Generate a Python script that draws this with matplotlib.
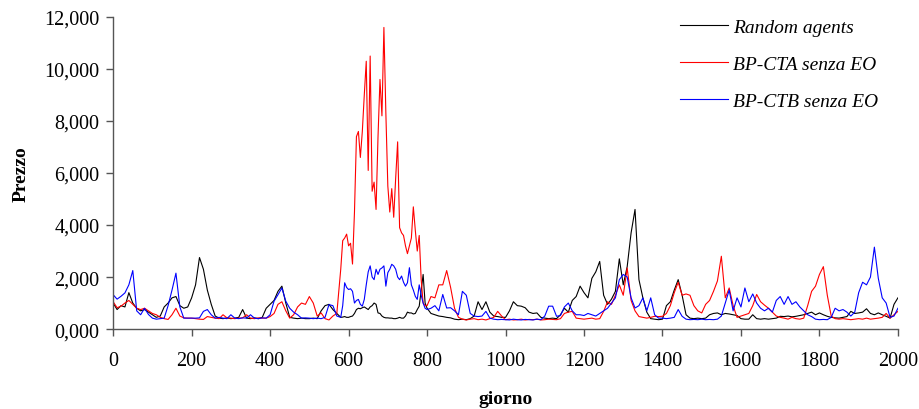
import numpy as np
import matplotlib.pyplot as plt
from matplotlib.ticker import FuncFormatter

plt.rcParams['font.family'] = ['Liberation Serif', 'DejaVu Serif']

# sampling days: every 10 days, every 5 days around the big BP-CTA bubble
giorni = list(range(0, 580, 10)) + list(range(580, 800, 5)) + list(range(800, 2001, 10))

random_agents = [
    1000, 750, 900, 850, 1400, 1000, 800, 700, 750, 650, 550, 450, 500, 850, 1000, 1200, 1250, 900, 800, 850,
    1200, 1700, 2750, 2300, 1500, 950, 500, 420, 400, 430, 400, 420, 450, 750, 420, 400, 430, 400, 450, 800,
    950, 1100, 1450, 1650, 1000, 450, 420, 400, 420, 400, 400, 420, 400, 700, 900, 950, 750, 600,
    # 580-795, step 5
    450, 460, 480, 450,
    450, 480, 500, 600, 750, 800, 780, 820, 850, 800,
    750, 850, 900, 1000, 950, 620, 600, 500, 450, 430,
    430, 420, 420, 400, 400, 420, 450, 420, 420, 500,
    650, 620, 620, 580, 600, 750, 880, 1500, 2100, 1000,
    # 800-2000
    800, 600, 550, 500, 480, 450, 430, 380, 360, 380, 360, 400, 500, 1050, 750, 1050, 650, 500, 480, 450,
    450, 700, 1050, 900, 880, 820, 650, 600, 620, 450, 420, 400, 420, 400, 550, 800, 650, 1100, 1250, 1650,
    1400, 1200, 1950, 2200, 2600, 1300, 950, 1150, 1450, 2700, 1700, 2400, 3700, 4600, 1900, 1200, 650, 400, 380, 360,
    380, 900, 1050, 1500, 1900, 1300, 550, 420, 400, 420, 400, 420, 550, 600, 620, 550, 600, 580, 550, 520,
    400, 380, 380, 550, 400, 380, 400, 380, 400, 420, 490, 480, 500, 470, 490, 520, 550, 600, 650, 550,
    620, 550, 490, 450, 430, 420, 450, 480, 680, 600, 620, 650, 780, 600, 550, 620, 550, 490, 420, 950, 1200,
]

bp_cta = [
    1050, 820, 880, 1000, 1100, 950, 800, 750, 800, 700, 600, 550, 450, 400, 370, 550, 800, 500, 430, 420,
    420, 400, 380, 370, 480, 450, 420, 400, 550, 430, 420, 400, 420, 430, 550, 420, 400, 430, 420, 420,
    480, 600, 950, 1050, 700, 420, 550, 850, 1000, 950, 1250, 1000, 500, 620, 400, 350, 500, 600,
    # 580-795, step 5
    2300, 3400, 3500, 3650,
    3200, 3300, 2500, 4500, 7400, 7600, 6600, 7600, 9000, 10300,
    6100, 10500, 5300, 5650, 4600, 7400, 9600, 8200, 11600, 8300,
    5500, 4500, 5400, 4300, 5800, 7200, 3900, 3700, 3600, 3200,
    2900, 3200, 3500, 4700, 3800, 3000, 3600, 1900, 1000, 900,
    # 800-2000
    900, 1250, 1200, 1700, 1700, 2250, 1600, 800, 450, 380, 350, 380, 400, 360, 380, 350, 400, 450, 680, 500,
    360, 380, 350, 360, 380, 350, 370, 360, 380, 350, 360, 380, 370, 360, 400, 600, 650, 680, 420, 400,
    380, 400, 420, 380, 400, 680, 1050, 950, 1300, 1700, 1300, 2350, 1100, 700, 480, 450, 420, 450, 490, 480,
    490, 600, 900, 1400, 1800, 1300, 1350, 1300, 900, 700, 620, 950, 1100, 1450, 1850, 2800, 1200, 1580, 900, 450,
    500, 550, 600, 900, 1330, 1050, 920, 800, 650, 500, 450, 420, 380, 450, 400, 380, 420, 900, 1450, 1650,
    2100, 2400, 1300, 500, 400, 380, 400, 380, 360, 380, 400, 380, 420, 380, 400, 420, 450, 600, 420, 550, 680,
]

bp_ctb = [
    1320, 1150, 1260, 1390, 1700, 2250, 700, 550, 800, 560, 420, 380, 400, 420, 900, 1500, 2150, 850, 420, 420,
    420, 420, 430, 680, 750, 550, 420, 450, 420, 400, 550, 420, 400, 430, 420, 550, 420, 400, 430, 420,
    550, 1070, 1320, 1580, 1070, 800, 650, 550, 420, 430, 420, 400, 420, 400, 450, 940, 900, 500,
    # 580-795, step 5
    450, 900, 1780, 1600,
    1520, 1550, 1450, 1000, 1100, 1140, 950, 880, 1140, 1700,
    2200, 2430, 2000, 1900, 2300, 2100, 2300, 2350, 2430, 1650,
    2170, 2300, 2490, 2430, 2300, 2000, 1900, 2040, 1800, 1650,
    1780, 2360, 1700, 1500, 1260, 1140, 1700, 1300, 1000, 800,
    # 800-2000
    750, 800, 900, 700, 1330, 810, 820, 700, 550, 1450, 1300, 600, 500, 480, 500, 680, 420, 380, 360, 370,
    360, 350, 380, 360, 350, 370, 360, 350, 380, 360, 500, 880, 880, 490, 520, 850, 1000, 700, 550, 550,
    520, 600, 550, 500, 600, 700, 800, 1000, 1200, 1900, 2100, 2000, 1200, 810, 900, 1200, 700, 1200, 550, 420,
    420, 400, 420, 450, 750, 490, 380, 360, 370, 360, 380, 360, 370, 360, 380, 500, 1000, 1500, 700, 1200,
    850, 1580, 1050, 1350, 1000, 800, 700, 800, 650, 1100, 1250, 950, 1250, 950, 1050, 850, 700, 550, 480, 380,
    360, 370, 360, 450, 800, 700, 750, 650, 500, 650, 1400, 1800, 1700, 2000, 3150, 1950, 1200, 1000, 450, 500, 800,
]

assert len(random_agents) == len(bp_cta) == len(bp_ctb) == len(giorni)

fig = plt.figure(figsize=(9.2, 4.1), dpi=100)
ax = fig.add_axes([0.123, 0.195, 0.853, 0.761])

ax.plot(giorni, random_agents, color='black', lw=0.8, label='Random agents')
ax.plot(giorni, bp_cta, color='#ff0000', lw=0.8, label='BP-CTA senza EO')
ax.plot(giorni, bp_ctb, color='#0000ff', lw=0.8, label='BP-CTB senza EO')

ax.set_xlim(0, 2000)
ax.set_ylim(0, 12000)
ax.set_xticks(np.arange(0, 2001, 200))
ax.set_yticks(np.arange(0, 12001, 2000))
ax.yaxis.set_major_formatter(FuncFormatter(lambda v, p: f"{v / 1000:.3f}".replace('.', ',')))

for s in ['top', 'right']:
    ax.spines[s].set_visible(False)
for s in ['left', 'bottom']:
    ax.spines[s].set_color('#555555')
    ax.spines[s].set_linewidth(1.0)

ax.tick_params(axis='x', direction='out', length=5, width=1, color='#555555',
               labelsize=14.5, pad=11)
ax.tick_params(axis='y', direction='out', length=5, width=1, color='#555555',
               labelsize=14.5, pad=5)

ax.set_xlabel('giorno', fontsize=14, fontweight='bold', labelpad=14)
ax.set_ylabel('Prezzo', fontsize=14, fontweight='bold', labelpad=10)

leg = ax.legend(loc='upper left', bbox_to_anchor=(680 / 920, 1 - 19 / 410),
                bbox_transform=fig.transFigure, frameon=False,
                borderpad=0, borderaxespad=0,
                prop={'style': 'italic', 'size': 14}, handlelength=2.45,
                labelspacing=1.0, handletextpad=0.3)

fig.savefig('out.png', dpi=100)
